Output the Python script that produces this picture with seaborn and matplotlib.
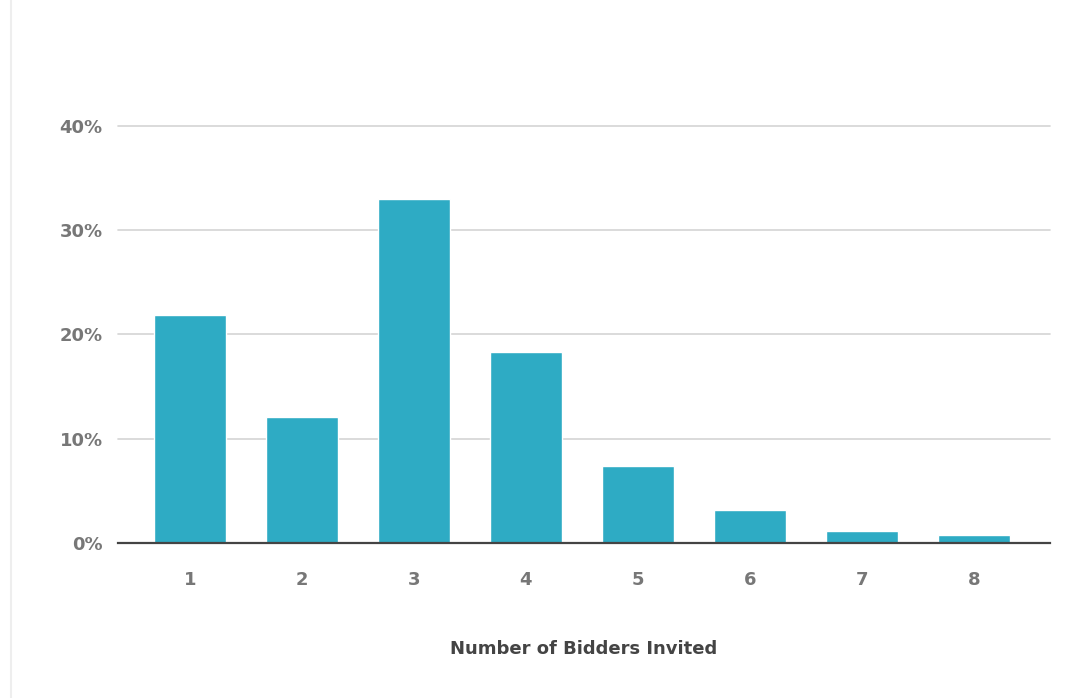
import matplotlib
matplotlib.use('Agg')
import matplotlib.pyplot as plt
import seaborn as sns
import pandas as pd

# data
bidders = ['1', '2', '3', '4', '5', '6', '7', '8']
share_pct = [21.9, 12.1, 33.0, 18.3, 7.4, 3.2, 1.15, 0.77]

BAR_COLOR = '#2eabc4'

sns.set_theme(style="white")
plt.rcParams['font.family'] = ['DejaVu Sans']

df = pd.DataFrame({'bidders': bidders, 'share': share_pct})

fig = plt.figure(figsize=(10.76, 6.98), dpi=100)
fig.patch.set_facecolor('white')
ax = fig.add_axes([0.1097, 0.2221, 0.8661, 0.5974])

sns.barplot(data=df, x='bidders', y='share', color=BAR_COLOR,
            width=0.64, saturation=1, ax=ax, zorder=3)

ax.set_ylim(0, 40)
ax.set_xlim(-0.64, 7.68)
ax.set_yticks([0, 10, 20, 30, 40])
ax.set_yticklabels([f'{v}%' for v in [0, 10, 20, 30, 40]])
ax.yaxis.grid(True, color='#d4d4d4', linewidth=1.2, zorder=0)
for gl in ax.get_ygridlines():
    gl.set_clip_on(False)
ax.xaxis.grid(False)
for side in ['top', 'right', 'left']:
    ax.spines[side].set_visible(False)
ax.spines['bottom'].set_color('#444444')
ax.spines['bottom'].set_linewidth(1.6)
ax.spines['bottom'].set_zorder(4)

ax.tick_params(axis='y', length=0, pad=11, labelsize=13,
               labelcolor='#777777')
ax.tick_params(axis='x', length=0, pad=20, labelsize=13,
               labelcolor='#777777')
for lbl in ax.get_xticklabels() + ax.get_yticklabels():
    lbl.set_fontweight('bold')

ax.set_ylabel('')
ax.set_xlabel('Number of Bidders Invited', fontsize=13,
              fontweight='bold', color='#444444', labelpad=37)

# faint border on the left edge of the screenshot
fig.add_artist(plt.Line2D([0.0102, 0.0102], [0, 1],
                          color='#eeeeee', linewidth=1.5))

plt.savefig('out.png', dpi=100, facecolor='white')
plt.close()
